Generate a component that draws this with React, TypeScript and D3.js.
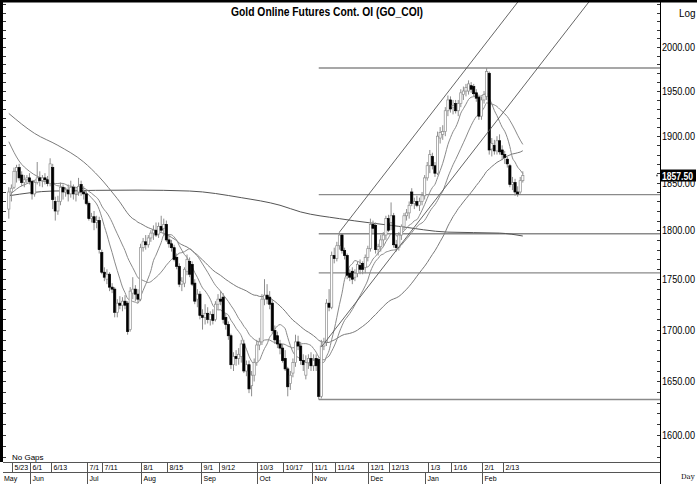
import React, { useEffect, useRef } from 'react'
import * as d3 from 'd3'

// daily candles, 19 May 2022 .. 22 Feb 2023 (weekdays)
const opens = [
  1822, 1840, 1845, 1862, 1866, 1858, 1850, 1853, 1855, 1851, 1838, 1850, 1855, 1852, 1855, 1853, 1849, 1866, 1830, 1820,
  1830, 1845, 1840, 1842, 1838, 1845, 1838, 1840, 1848, 1840, 1838, 1828, 1812, 1814, 1808, 1810, 1777, 1757, 1750, 1755,
  1742, 1740, 1717, 1726, 1724, 1728, 1726, 1700, 1736, 1740, 1735, 1730, 1782, 1788, 1785, 1792, 1797, 1800, 1796, 1804,
  1802, 1806, 1790, 1786, 1782, 1772, 1763, 1745, 1746, 1758, 1768, 1765, 1746, 1730, 1735, 1714, 1712, 1716, 1710, 1715,
  1710, 1725, 1730, 1732, 1712, 1705, 1694, 1666, 1674, 1672, 1674, 1686, 1660, 1666, 1646, 1656, 1668, 1685, 1688, 1730,
  1734, 1732, 1726, 1699, 1694, 1686, 1682, 1672, 1662, 1648, 1658, 1668, 1688, 1684, 1670, 1656, 1668, 1672, 1665, 1672,
  1671, 1636, 1684, 1688, 1726, 1722, 1774, 1771, 1784, 1795, 1779, 1774, 1756, 1758, 1752, 1756, 1764, 1766, 1762, 1772,
  1781, 1806, 1805, 1780, 1783, 1790, 1795, 1812, 1808, 1815, 1785, 1782, 1795, 1804, 1815, 1818, 1840, 1828, 1830, 1826,
  1830, 1836, 1855, 1868, 1878, 1868, 1860, 1898, 1902, 1905, 1928, 1940, 1932, 1936, 1928, 1936, 1946, 1950, 1950, 1956,
  1955, 1948, 1943, 1922, 1940, 1944, 1970, 1886, 1890, 1884, 1895, 1885, 1880, 1875, 1868, 1848, 1850, 1840, 1840, 1852,
]
const highs = [
  1845, 1848, 1866, 1869, 1870, 1862, 1858, 1858, 1860, 1853, 1852, 1872, 1862, 1858, 1860, 1857, 1876, 1870, 1835, 1836,
  1850, 1848, 1845, 1848, 1852, 1848, 1845, 1855, 1852, 1846, 1842, 1830, 1818, 1820, 1815, 1814, 1780, 1762, 1760, 1757,
  1746, 1742, 1730, 1733, 1732, 1734, 1728, 1742, 1752, 1744, 1740, 1786, 1792, 1795, 1795, 1800, 1805, 1808, 1808, 1815,
  1812, 1810, 1795, 1790, 1785, 1776, 1766, 1752, 1762, 1775, 1772, 1768, 1750, 1740, 1738, 1720, 1725, 1722, 1718, 1720,
  1728, 1735, 1738, 1736, 1716, 1708, 1696, 1678, 1680, 1682, 1690, 1690, 1670, 1670, 1660, 1672, 1690, 1692, 1735, 1750,
  1745, 1738, 1730, 1704, 1698, 1690, 1686, 1680, 1664, 1660, 1672, 1695, 1694, 1688, 1676, 1675, 1676, 1678, 1676, 1676,
  1673, 1690, 1692, 1730, 1740, 1778, 1782, 1788, 1798, 1797, 1782, 1776, 1760, 1762, 1760, 1768, 1770, 1768, 1775, 1784,
  1812, 1810, 1808, 1786, 1795, 1798, 1815, 1816, 1829, 1818, 1790, 1798, 1806, 1818, 1822, 1830, 1844, 1834, 1836, 1834,
  1840, 1858, 1872, 1885, 1882, 1872, 1905, 1910, 1912, 1932, 1945, 1944, 1940, 1940, 1940, 1952, 1955, 1958, 1962, 1960,
  1958, 1952, 1946, 1944, 1950, 1976, 1972, 1898, 1896, 1900, 1902, 1890, 1884, 1878, 1870, 1856, 1854, 1846, 1856, 1862,
]
const lows = [
  1812, 1830, 1843, 1850, 1852, 1846, 1845, 1849, 1848, 1832, 1835, 1848, 1846, 1845, 1848, 1846, 1846, 1822, 1810, 1816,
  1826, 1832, 1835, 1830, 1834, 1832, 1830, 1836, 1836, 1832, 1826, 1810, 1808, 1800, 1802, 1776, 1755, 1748, 1745, 1738,
  1736, 1712, 1712, 1720, 1718, 1720, 1695, 1698, 1730, 1728, 1726, 1728, 1778, 1780, 1782, 1788, 1790, 1793, 1792, 1798,
  1795, 1788, 1782, 1778, 1768, 1760, 1742, 1738, 1742, 1754, 1752, 1743, 1725, 1722, 1710, 1700, 1705, 1706, 1704, 1705,
  1708, 1720, 1724, 1706, 1700, 1690, 1662, 1660, 1665, 1666, 1668, 1658, 1655, 1639, 1636, 1650, 1665, 1680, 1685, 1724,
  1725, 1720, 1696, 1686, 1682, 1676, 1668, 1660, 1636, 1642, 1654, 1664, 1680, 1666, 1660, 1652, 1662, 1660, 1660, 1660,
  1633, 1634, 1680, 1684, 1718, 1720, 1766, 1768, 1780, 1776, 1770, 1750, 1748, 1745, 1748, 1752, 1755, 1755, 1756, 1768,
  1778, 1796, 1776, 1774, 1778, 1784, 1790, 1798, 1800, 1782, 1778, 1779, 1790, 1800, 1810, 1812, 1825, 1822, 1824, 1820,
  1826, 1832, 1852, 1860, 1864, 1856, 1858, 1892, 1896, 1900, 1922, 1926, 1924, 1925, 1922, 1932, 1940, 1944, 1946, 1948,
  1944, 1938, 1918, 1918, 1936, 1940, 1880, 1878, 1880, 1880, 1880, 1874, 1870, 1866, 1845, 1842, 1836, 1835, 1838, 1850,
]
const closes = [
  1840, 1844, 1862, 1866, 1855, 1850, 1853, 1855, 1851, 1838, 1850, 1855, 1852, 1855, 1853, 1849, 1870, 1832, 1820, 1830,
  1845, 1840, 1842, 1838, 1845, 1838, 1840, 1846, 1840, 1838, 1828, 1812, 1814, 1808, 1810, 1780, 1757, 1752, 1755, 1742,
  1740, 1717, 1726, 1724, 1728, 1724, 1698, 1738, 1740, 1735, 1730, 1782, 1788, 1785, 1792, 1797, 1800, 1795, 1804, 1800,
  1806, 1790, 1786, 1782, 1770, 1763, 1745, 1748, 1760, 1770, 1755, 1745, 1728, 1735, 1714, 1712, 1716, 1710, 1715, 1709,
  1725, 1730, 1728, 1710, 1705, 1694, 1666, 1674, 1672, 1676, 1686, 1660, 1666, 1643, 1656, 1668, 1685, 1688, 1730, 1734,
  1730, 1725, 1699, 1690, 1686, 1682, 1670, 1662, 1645, 1656, 1668, 1688, 1684, 1670, 1666, 1668, 1672, 1665, 1670, 1665,
  1636, 1684, 1688, 1726, 1722, 1774, 1771, 1784, 1795, 1779, 1774, 1754, 1752, 1750, 1756, 1765, 1760, 1760, 1772, 1781,
  1806, 1802, 1780, 1783, 1790, 1795, 1812, 1800, 1815, 1785, 1782, 1795, 1804, 1815, 1818, 1826, 1828, 1830, 1826, 1830,
  1836, 1855, 1868, 1880, 1868, 1860, 1900, 1904, 1905, 1928, 1940, 1930, 1934, 1928, 1936, 1948, 1950, 1954, 1958, 1952,
  1947, 1942, 1922, 1940, 1946, 1972, 1885, 1892, 1884, 1895, 1883, 1880, 1877, 1870, 1848, 1850, 1840, 1838, 1852, 1857.5,
]

const firstDay = new Date(2022, 4, 19)
const lastDay = new Date(2023, 1, 22)

// moving averages before their window is full: [day index, price]
const ma10Lead = [[0, 1836], [4, 1845], [8, 1850]]
const ma20Lead = [[0, 1894], [4, 1873], [8, 1862], [14, 1853], [18, 1849]]
const ma50Lead = [[0, 1925], [10, 1903], [19, 1890], [29, 1872], [35, 1856], [42, 1833], [48, 1812]]
const ma200 = [[0, 1836], [17, 1841], [50, 1842], [70, 1841], [90, 1834], [105, 1826], [113, 1819],
  [128, 1812], [151, 1804], [170, 1798], [190, 1797], [199, 1794]]

// channel lines: [day index, price]
const upperChannel = [[128, 1798], [200, 2064]]
const lowerChannel = [[121, 1683], [228, 2066]]

const swingLow = { day: 120, price: 1633 }
const swingHigh = 1976
const fibRatios = [0, 0.382, 0.5, 0.618, 1]

const priceTicks = [1600, 1650, 1700, 1750, 1800, 1850, 1900, 1950, 2000]
const lastPrice = '1857.50'

const dateTicks = [
  ['2022-05-23', '5/23'], ['2022-06-01', '6/1'], ['2022-06-13', '6/13'], ['2022-07-01', '7/1'],
  ['2022-07-11', '7/11'], ['2022-08-01', '8/1'], ['2022-08-15', '8/15'], ['2022-09-01', '9/1'],
  ['2022-09-12', '9/12'], ['2022-10-03', '10/3'], ['2022-10-17', '10/17'], ['2022-11-01', '11/1'],
  ['2022-11-14', '11/14'], ['2022-12-01', '12/1'], ['2022-12-13', '12/13'], ['2023-01-03', '1/3'],
  ['2023-01-16', '1/16'], ['2023-02-01', '2/1'], ['2023-02-13', '2/13'],
]
const monthTicks = [
  ['2022-06-01', 'Jun'], ['2022-07-01', 'Jul'], ['2022-08-01', 'Aug'], ['2022-09-01', 'Sep'],
  ['2022-10-03', 'Oct'], ['2022-11-01', 'Nov'], ['2022-12-01', 'Dec'], ['2023-01-02', 'Jan'],
  ['2023-02-01', 'Feb'],
]

const narrow = "'Liberation Sans Narrow','Arial Narrow','Liberation Sans',Arial,sans-serif"

const App = () => {
  const svgRef = useRef<SVGSVGElement>(null)

  useEffect(() => {
    draw()
  }, [])

  const draw = () => {
    const width = 697
    const height = 484
    const plot = { left: 3, right: 660, top: 2, bottom: 462 }

    const svg = d3.select(svgRef.current)
    svg.selectAll('*').remove()

    const days = d3.timeDay.range(firstDay, d3.timeDay.offset(lastDay, 1)).filter(d => d.getDay() % 6 !== 0)
    const parse = d3.timeParse('%Y-%m-%d')
    const dayIndex = (s: string) => days.findIndex(d => +d === +parse(s)!)

    const x = d3.scaleLinear().domain([0, days.length - 1]).range([8.8, 522.8])
    const y = d3.scaleLog().domain([1600, 2000]).range([435, 47])

    svg.append('rect').attr('width', width).attr('height', height).attr('fill', '#fff')

    svg.append('defs').append('clipPath').attr('id', 'plot-clip')
      .append('rect')
      .attr('x', plot.left).attr('y', plot.top)
      .attr('width', plot.right - plot.left).attr('height', plot.bottom - plot.top)

    const g = svg.append('g').attr('clip-path', 'url(#plot-clip)')

    // fibonacci retracements (log)
    const lnH = Math.log(swingHigh)
    const lnL = Math.log(swingLow.price)
    g.append('g')
      .selectAll('line')
      .data(fibRatios.map(r => Math.exp(lnH - r * (lnH - lnL))))
      .enter().append('line')
      .attr('x1', x(swingLow.day)).attr('x2', plot.right)
      .attr('y1', d => y(d)).attr('y2', d => y(d))
      .attr('stroke', '#8a8a8a').attr('stroke-width', 1.4)

    const lineGen = d3.line<number[]>().x(d => x(d[0])).y(d => y(d[1]))
    const smooth = d3.line<number[]>().x(d => x(d[0])).y(d => y(d[1])).curve(d3.curveMonotoneX)

    const sma = (n: number, lead: number[][]) => {
      const pts = lead.map(p => [p[0], p[1]])
      for (let i = n - 1; i < closes.length; i++) {
        pts.push([i, d3.mean(closes.slice(i - n + 1, i + 1))!])
      }
      return pts
    }

    g.append('path').attr('d', smooth(ma200)).attr('fill', 'none').attr('stroke', '#555').attr('stroke-width', 1)
    g.append('path').attr('d', smooth(sma(50, ma50Lead))).attr('fill', 'none').attr('stroke', '#7a7a7a').attr('stroke-width', 1)
    g.append('path').attr('d', smooth(sma(20, ma20Lead))).attr('fill', 'none').attr('stroke', '#8a8a8a').attr('stroke-width', 1)
    g.append('path').attr('d', smooth(sma(10, ma10Lead))).attr('fill', 'none').attr('stroke', '#8a8a8a').attr('stroke-width', 1)

    // candles
    const candles = g.append('g')
      .selectAll('g')
      .data(closes.map((c, i) => ({ i, o: opens[i], h: highs[i], l: lows[i], c })))
      .enter().append('g')

    candles.append('line')
      .attr('x1', d => x(d.i)).attr('x2', d => x(d.i))
      .attr('y1', d => y(d.h)).attr('y2', d => y(d.l))
      .attr('stroke', '#8d8d8d').attr('stroke-width', 1)

    candles.append('rect')
      .attr('x', d => x(d.i) - 1.1)
      .attr('width', 2.2)
      .attr('y', d => y(Math.max(d.o, d.c)))
      .attr('height', d => Math.max(1, Math.abs(y(d.o) - y(d.c))))
      .attr('fill', d => (d.c < d.o ? '#000' : '#fff'))
      .attr('stroke', d => (d.c < d.o ? '#000' : '#8d8d8d'))
      .attr('stroke-width', 0.7)

    g.append('path').attr('d', lineGen(upperChannel)).attr('fill', 'none').attr('stroke', '#555').attr('stroke-width', 0.9)
    g.append('path').attr('d', lineGen(lowerChannel)).attr('fill', 'none').attr('stroke', '#555').attr('stroke-width', 0.9)

    // frame
    svg.append('rect').attr('x', 0).attr('y', 0).attr('width', width).attr('height', 2.5).attr('fill', '#000')
    svg.append('rect').attr('x', 0).attr('y', 0).attr('width', 3).attr('height', plot.bottom).attr('fill', '#000')
    svg.append('line')
      .attr('x1', plot.right + 0.5).attr('x2', plot.right + 0.5)
      .attr('y1', 0).attr('y2', height)
      .attr('stroke', '#000')

    const minor = d3.range(1580, 2070, 10).filter(v => y(v) > plot.top + 2 && y(v) < plot.bottom - 2)
    svg.append('g').selectAll('line').data(minor).enter().append('line')
      .attr('x1', plot.right - 3).attr('x2', plot.right)
      .attr('y1', d => Math.round(y(d)) + 0.5).attr('y2', d => Math.round(y(d)) + 0.5)
      .attr('stroke', '#000').attr('stroke-width', 0.8)
    svg.append('g').selectAll('line').data(minor).enter().append('line')
      .attr('x1', 3).attr('x2', 6)
      .attr('y1', d => Math.round(y(d)) + 0.5).attr('y2', d => Math.round(y(d)) + 0.5)
      .attr('stroke', '#000').attr('stroke-width', 0.8)

    // price labels, squeezed to a narrow face
    svg.append('g').selectAll('text').data(priceTicks).enter().append('text')
      .attr('transform', d => `translate(${plot.right + 2},${y(d) + 4}) scale(0.83,1)`)
      .attr('font-family', narrow)
      .attr('font-size', 11)
      .text(d => d.toFixed(2))

    // last price tag
    const yLast = y(closes[closes.length - 1])
    svg.append('rect').attr('x', plot.right + 1).attr('y', yLast - 6).attr('width', 35).attr('height', 12).attr('fill', '#000')
    svg.append('text')
      .attr('transform', `translate(${plot.right + 2},${yLast + 4}) scale(0.78,1)`)
      .attr('font-family', narrow).attr('font-size', 11).attr('font-weight', 'bold')
      .attr('fill', '#fff')
      .text(lastPrice)
    svg.append('circle').attr('cx', plot.right - 3).attr('cy', yLast).attr('r', 0.9).attr('fill', '#555')

    svg.append('text')
      .attr('transform', 'translate(327,16) scale(0.86,1)')
      .attr('text-anchor', 'middle')
      .attr('font-family', narrow).attr('font-size', 12).attr('font-weight', 'bold')
      .text('Gold Online Futures Cont. OI (GO_COI)')

    svg.append('text')
      .attr('transform', 'translate(679,17) scale(0.9,1)')
      .attr('font-family', narrow).attr('font-size', 11)
      .text('Log')

    // date axis
    const axis = svg.append('g').attr('font-family', narrow).attr('font-size', 7)

    axis.append('text').attr('x', 12).attr('y', 460).attr('font-size', 8).text('No Gaps')

    axis.append('line').attr('x1', plot.left).attr('x2', plot.right).attr('y1', 462.5).attr('y2', 462.5).attr('stroke', '#555')
    axis.append('line').attr('x1', plot.left).attr('x2', plot.right).attr('y1', 472.5).attr('y2', 472.5).attr('stroke', '#555')

    const dt = axis.append('g').selectAll('g').data(dateTicks).enter().append('g')
      .attr('transform', d => `translate(${Math.round(x(dayIndex(d[0])) - 2) + 0.5},0)`)
    dt.append('line').attr('y1', 462).attr('y2', 472).attr('stroke', '#555')
    dt.append('text').attr('x', 2).attr('y', 470).text(d => d[1])

    const mt = axis.append('g').selectAll('g').data(monthTicks).enter().append('g')
      .attr('transform', d => `translate(${Math.round(x(dayIndex(d[0])) - 2) + 0.5},0)`)
    mt.append('line').attr('y1', 472).attr('y2', height).attr('stroke', '#555')
    mt.append('text').attr('x', 2).attr('y', 480.5).text(d => d[1])

    axis.append('text').attr('x', 4).attr('y', 480.5).text('May')

    svg.append('text')
      .attr('x', 681).attr('y', 479)
      .attr('font-family', "'DejaVu Serif', serif").attr('font-size', 7)
      .text('Day')
  }

  return (
    <svg
      ref={svgRef}
      width={697}
      height={484}
      style={{ position: 'absolute', left: 0, top: 0, display: 'block' }}
    />
  )
}

export default App
